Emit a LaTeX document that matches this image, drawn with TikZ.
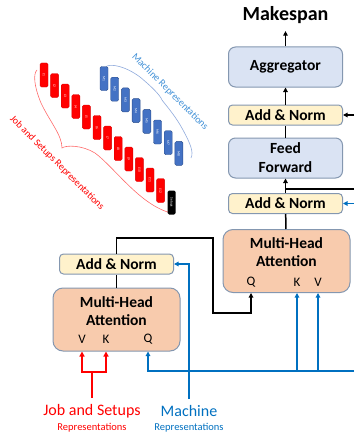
\documentclass[tikz,border=0pt]{standalone}
\usepackage{fontspec}
\setmainfont{Carlito}
\usetikzlibrary{arrows.meta}

\definecolor{boxline}{HTML}{8497B0}
\definecolor{aggfill}{HTML}{DAE3F3}
\definecolor{normfill}{HTML}{FFF2CC}
\definecolor{attfill}{HTML}{F8CBAD}
\definecolor{mblue}{HTML}{0070C0}
\definecolor{tokblue}{HTML}{4472C4}
\definecolor{tokline}{HTML}{2F528F}
\definecolor{braceblue}{HTML}{8FAADC}
\definecolor{labelblue}{HTML}{3F8FD6}
\definecolor{bracered}{HTML}{FF6B6B}

\begin{document}
\begin{tikzpicture}[x=1pt, y=-1pt,
    tok/.style={rectangle,rounded corners=1.5pt,minimum width=24pt,minimum height=8pt,inner sep=0pt,rotate=-90,text=white,font=\fontsize{3.5}{4}\selectfont},
    jtok/.style={tok,fill=red,draw=red!85!black,line width=0.4pt},
    mtok/.style={tok,fill=tokblue,draw=tokline,line width=0.4pt},
    stok/.style={tok,fill=black},
    blk/.style={rectangle,draw=boxline,line width=1pt,font=\fontsize{15.5}{19}\selectfont\bfseries,align=center,inner sep=2pt},
    aggbox/.style={blk,fill=aggfill,rounded corners=7pt,minimum width=114pt,minimum height=40pt},
    normbox/.style={blk,fill=normfill,rounded corners=4pt,minimum width=114pt,minimum height=20pt},
    attbox/.style={blk,fill=attfill,rounded corners=10pt,minimum width=127pt,minimum height=63pt},
    atttitle/.style={font=\fontsize{15.5}{18.5}\selectfont\bfseries,align=center,inner sep=0pt},
    qkv/.style={font=\fontsize{13}{13}\selectfont,inner sep=0pt},
    replabel/.style={font=\fontsize{16}{16}\selectfont,inner sep=6pt},
    repsmall/.style={font=\fontsize{10.5}{10.5}\selectfont,inner sep=1pt}]
\useasboundingbox (0, 0) rectangle (354, 436);

% braces behind the token rows
\draw [draw=bracered, line width=0.6pt] (37, 70) .. controls (33, 74) and (34, 86) .. (41, 103)
    .. controls (50, 122) and (62, 135) .. (62, 148)
    .. controls (66, 145) and (82, 145) .. (95, 153)
    .. controls (115, 168) and (140, 205) .. (171, 213);
\draw [draw=braceblue, line width=0.6pt] (107, 66) .. controls (112, 64) and (125, 66) .. (140, 77)
    .. controls (152, 87) and (160, 95) .. (162, 100)
    .. controls (164, 103) and (175, 115) .. (183, 130)
    .. controls (190, 143) and (194, 152) .. (191, 158);

\node (jrep) at (57, 163) [rotate=-45,text=red,font=\fontsize{10}{10}\selectfont] {Job and Setups Representations};
\node (mrep) at (170, 92) [rotate=-45,text=labelblue,font=\fontsize{10}{10}\selectfont] {Machine Representations};

\node (j1) at (44, 75) [jtok] {J1};
\node (j2) at (54.6, 85.5) [jtok] {J2};
\node (j3) at (65.2, 96) [jtok] {J3};
\node (j4) at (75.8, 106.5) [jtok] {J4};
\node (j5) at (86.4, 117) [jtok] {J5};
\node (j6) at (97, 127.5) [jtok] {J6};
\node (j7) at (107.6, 138) [jtok] {J7};
\node (j8) at (118.2, 148.5) [jtok] {J8};
\node (j9) at (128.8, 159) [jtok] {J9};
\node (j10) at (139.4, 169.5) [jtok] {J10};
\node (j11) at (150, 180) [jtok] {J11};
\node (j12) at (160.6, 190.5) [jtok] {J12};
\node (setups) at (171.5, 202.5) [stok] {Setups};

\node (m1) at (104, 78.5) [mtok] {M1};
\node (m2) at (114.7, 89.2) [mtok] {M2};
\node (m3) at (125.4, 99.9) [mtok] {M3};
\node (m4) at (136.1, 110.6) [mtok] {M4};
\node (m5) at (146.8, 121.3) [mtok] {M5};
\node (m6) at (157.5, 132) [mtok] {M6};
\node (m7) at (168.2, 142.7) [mtok] {M7};
\node (m8) at (178.9, 153.4) [mtok] {M8};

% decoder stack
\node (mk) at (285.5, 15) [font=\fontsize{20}{20}\selectfont\bfseries] {Makespan};
\node (agg) at (285.5, 67) [aggbox] {Aggregator};
\node (an1) at (285.5, 115) [normbox] {Add \& Norm};
\node (ff) at (285.5, 158) [aggbox] {Feed\\Forward};
\node (an2) at (285.5, 203.5) [normbox] {Add \& Norm};
\node (att1) at (286.5, 261) [attbox] {};
\node (att1t) at (286.5, 252) [atttitle] {Multi-Head\\Attention};
\node (q1) at (251, 282) [qkv] {Q};
\node (k1) at (297, 282) [qkv] {K};
\node (v1) at (318, 282) [qkv] {V};

% encoder block
\node (an3) at (116.5, 264) [normbox] {Add \& Norm};
\node (att2) at (116.5, 319.5) [attbox] {};
\node (att2t) at (116.5, 311) [atttitle] {Multi-Head\\Attention};
\node (v2) at (82, 339) [qkv] {V};
\node (k2) at (106, 339) [qkv] {K};
\node (q2) at (148, 339) [qkv] {Q};

\node (jsl) at (92, 411) [replabel,text=red] {Job and Setups};
\node (jsr) at (92, 428) [repsmall,text=red] {Representations};
\node (ml) at (189, 411) [replabel,text=mblue] {Machine};
\node (mr) at (189, 428) [repsmall,text=mblue] {Representations};

\coordinate (r1) at (354, 115);
\coordinate (r2) at (354, 189);
\coordinate (r3) at (354, 203.5);
\coordinate (r4) at (354, 371);
\coordinate (c1) at (213, 238);
\coordinate (c2) at (213, 313);
\coordinate (js) at (92, 372);

\begin{scope}[>={Triangle[length=4.5pt,width=4.5pt]}, line width=1.5pt]
    \draw [->, shorten >=4pt] (agg) -- (mk);
    \draw [->] (an1) -- (agg);
    \draw (ff) -- (an1);
    \draw [->] (an2) -- (ff);
    \draw (att1) -- (an2);
    \draw [->] (r1) -- (an1);
    \draw (r2) -- (r2 -| ff.south);

    \draw (att2) -- (an3);
    \draw [->] (an3.north) |- (c1) -- (c2) -| (q1 |- att1.south);
\end{scope}

\begin{scope}[>={Triangle[length=4.5pt,width=4.5pt]}, line width=1.7pt, mblue]
    \draw [->] (r3) -- (an2);
    \draw [->] (r4) -- (q2 |- r4) -- (q2 |- att2.south);
    \draw [->] (k1 |- r4) -- (k1 |- att1.south);
    \draw [->] (v1 |- r4) -- (v1 |- att1.south);
    \draw [->] (ml) |- (an3);
\end{scope}

\begin{scope}[>={Triangle[length=5pt,width=5pt]}, line width=2pt, red]
    \draw [->] (jsl) -- (js) -| (v2 |- att2.south);
    \draw [->] (js) -| (k2 |- att2.south);
\end{scope}
\end{tikzpicture}
\end{document}
